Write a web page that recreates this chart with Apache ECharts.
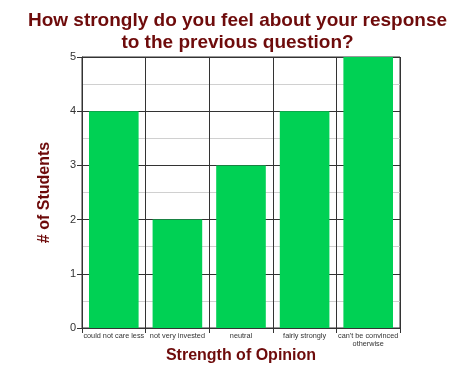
<!DOCTYPE html>
<html><head><meta charset="utf-8">
<script src="https://cdn.jsdelivr.net/npm/echarts@6/dist/echarts.min.js"></script>
<style>html,body{margin:0;padding:0;background:#fff}#c{width:475px;height:367px}</style>
</head><body><div id="c"></div>
<script>
const categories = ['could not care less','not very invested','neutral','fairly strongly',"can't be convinced\notherwise"];
const students = [4, 2, 3, 4, 5];
const yTicks = [0, 1, 2, 3, 4, 5];

const chart = echarts.init(document.getElementById('c'));
chart.setOption({
  animation: false,
  backgroundColor: '#fff',
  title: {
    text: 'How strongly do you feel about your response\nto the previous question?',
    left: 'center', top: 5,
    textStyle: {fontFamily: 'Liberation Sans', fontWeight: 'bold', fontSize: 19, color: '#6e0b0b', lineHeight: 22}
  },
  grid: {left: 82, right: 75, top: 57, bottom: 39, outerBoundsMode: 'none', containLabel: false, show: true, borderColor: '#333', borderWidth: 1, backgroundColor: 'transparent'},
  xAxis: {
    type: 'category', data: categories,
    name: 'Strength of Opinion', nameLocation: 'middle', nameGap: 20, nameMoveOverlap: false,
    nameTextStyle: {fontFamily: 'Liberation Sans', fontWeight: 'bold', fontSize: 16, color: '#6e0b0b'},
    axisLine: {lineStyle: {color: '#333'}},
    axisTick: {show: true, length: 5, lineStyle: {color: '#333'}},
    axisLabel: {fontFamily: 'Liberation Sans', fontSize: 7.3, color: '#333', margin: 4, interval: 0, lineHeight: 8},
    splitLine: {show: true, lineStyle: {color: '#333'}}
  },
  yAxis: {
    type: 'value', min: yTicks[0], max: yTicks[yTicks.length-1], interval: 1,
    name: '# of Students', nameLocation: 'middle', nameGap: 29, nameMoveOverlap: false,
    nameTextStyle: {fontFamily: 'Liberation Sans', fontWeight: 'bold', fontSize: 16, color: '#6e0b0b'},
    axisLine: {show: true, lineStyle: {color: '#333'}},
    axisTick: {show: true, length: 5, lineStyle: {color: '#333'}},
    axisLabel: {fontFamily: 'Liberation Sans', fontSize: 11, color: '#333', margin: 6},
    splitLine: {show: true, lineStyle: {color: '#333'}},
    minorTick: {show: false, splitNumber: 2},
    minorSplitLine: {show: true, lineStyle: {color: '#d0d0d0'}}
  },
  series: [{
    type: 'bar', data: students, barCategoryGap: '22%',
    itemStyle: {color: '#00d154'}
  }]
});
</script></body></html>
